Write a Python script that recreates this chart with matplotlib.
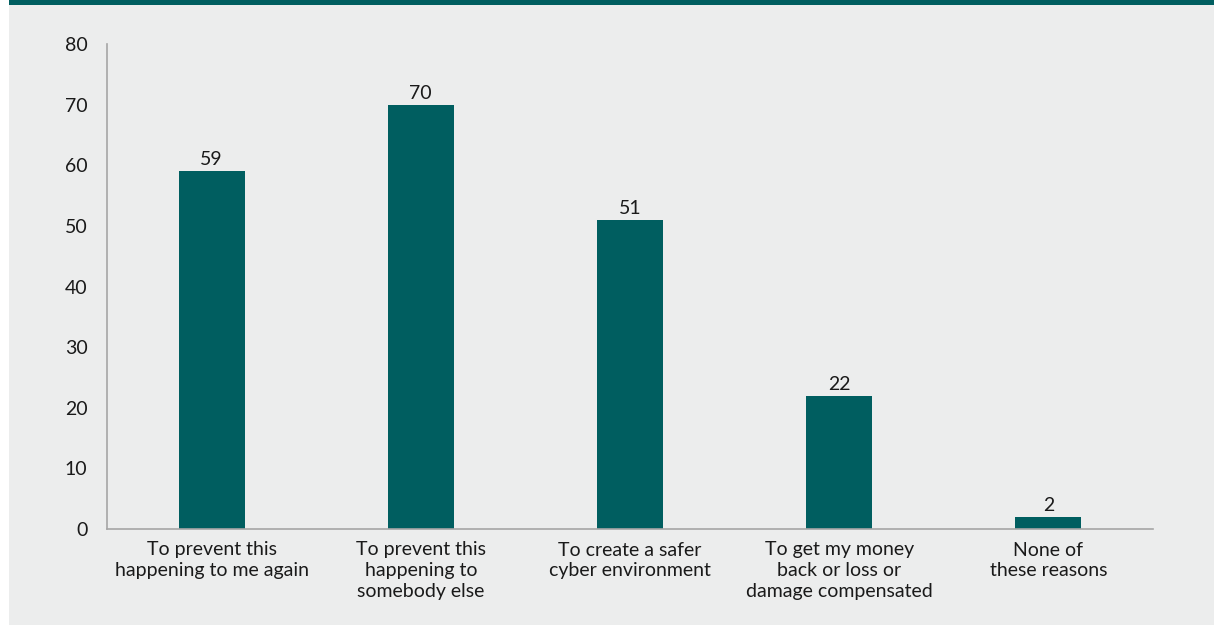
import matplotlib.pyplot as plt
from matplotlib.patches import Rectangle

categories = ['To prevent this\nhappening to me again',
              'To prevent this\nhappening to\nsomebody else',
              'To create a safer\ncyber environment',
              'To get my money\nback or loss or\ndamage compensated',
              'None of\nthese reasons']
values = [59, 70, 51, 22, 2]
yticks = [0, 10, 20, 30, 40, 50, 60, 70, 80]

teal = '#005e60'
panel = '#eceded'
txt = '#1a1a1a'

plt.rcParams['font.family'] = ['Lato', 'DejaVu Sans']

fig = plt.figure(figsize=(12.14, 6.25), dpi=100, facecolor='white')
# grey panel with a teal band along the top, kept behind the axes
fig.add_artist(Rectangle((9 / 1214, 0), 1 - 9 / 1214, 1, transform=fig.transFigure,
                         facecolor=panel, edgecolor='none', zorder=-10))
fig.add_artist(Rectangle((9 / 1214, 1 - 5 / 625), 1 - 9 / 1214, 5 / 625,
                         transform=fig.transFigure, facecolor=teal,
                         edgecolor='none', zorder=-9))

ax = fig.add_axes([107 / 1214, 96 / 625, 1046 / 1214, 485 / 625])
ax.set_facecolor('none')

x = range(len(categories))
bars = ax.bar(x, values, width=0.316, color=teal, zorder=2)
for b, v in zip(bars, values):
    ax.text(b.get_x() + b.get_width() / 2, v + 0.5, str(v), ha='center', va='bottom',
            fontsize=14, color=txt)

ax.set_xlim(-0.5, len(categories) - 0.5)
ax.set_ylim(0, 80)
ax.set_yticks(yticks)
ax.set_yticklabels([str(t) for t in yticks], fontsize=14, color=txt)
ax.set_xticks(list(x))
ax.set_xticklabels(categories, fontsize=14, color=txt, linespacing=1.25)
ax.tick_params(axis='both', length=0)
ax.tick_params(axis='y', pad=14)
ax.tick_params(axis='x', pad=9)

for side in ['top', 'right']:
    ax.spines[side].set_visible(False)
for side in ['left', 'bottom']:
    ax.spines[side].set_color('#a6a6a6')
    ax.spines[side].set_linewidth(1.2)

fig.savefig('out.png', dpi=100, facecolor=fig.get_facecolor())
